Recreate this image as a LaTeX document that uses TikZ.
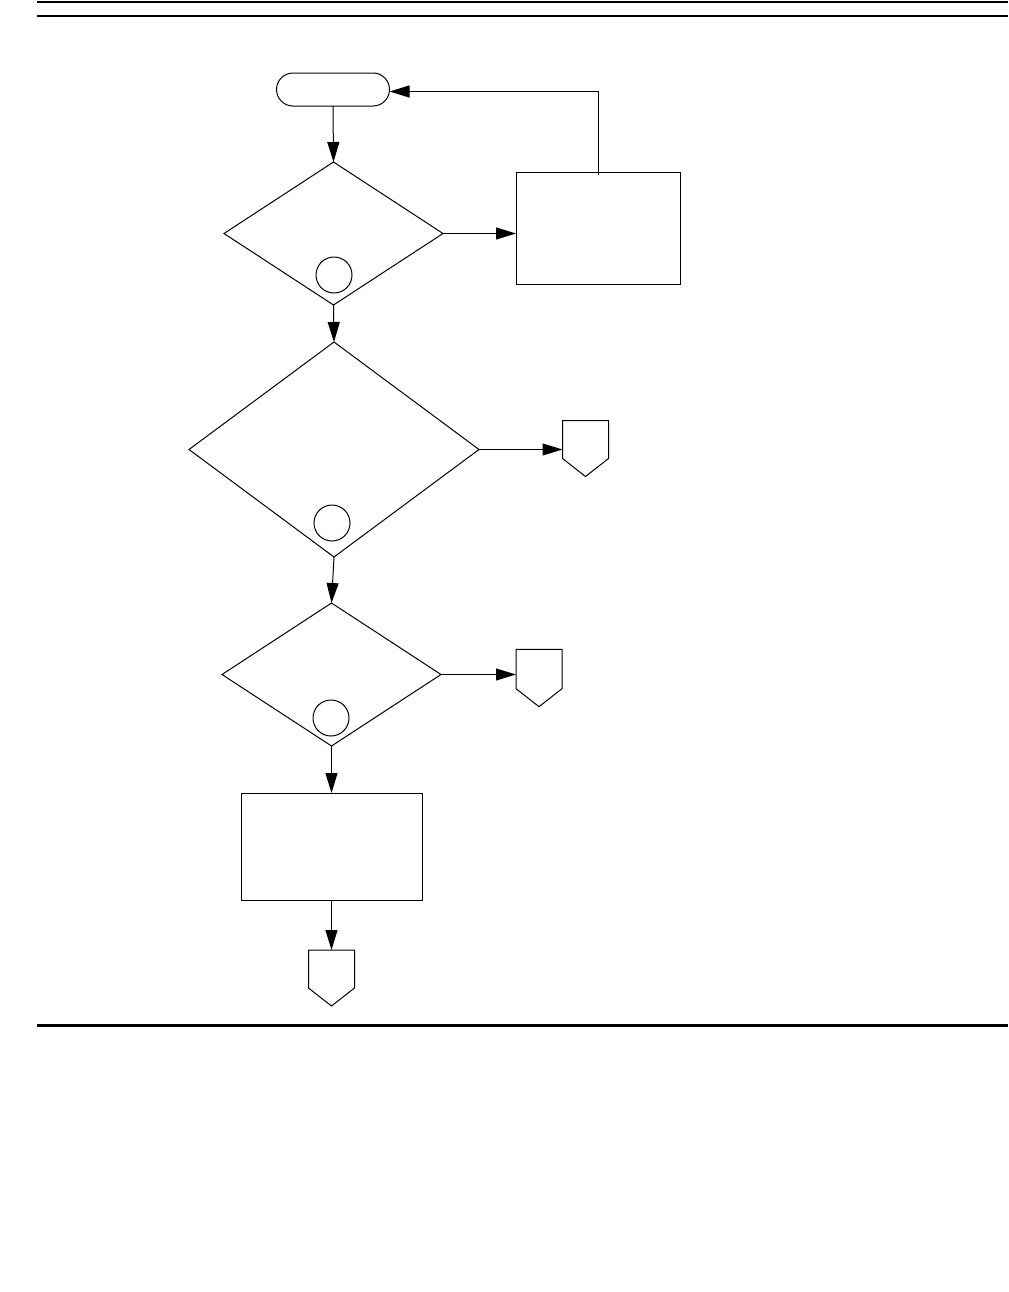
\documentclass[tikz,border=0pt]{standalone}
\usetikzlibrary{arrows.meta,shapes.geometric,shapes.misc}
\begin{document}
\begin{tikzpicture}[x=0.75pt,y=-0.75pt,
  every node/.style={inner sep=0pt,outer sep=0pt},
  ln/.style={line width=0.75pt,black},
  arr/.style={ln,-{Triangle[length=15pt,width=9pt]}},
  rule/.style={line width=1.6pt,black},
  term/.style={draw,ln,rounded rectangle,minimum width=84.75pt,minimum height=24.75pt},
  dsmall/.style={draw,ln,diamond,minimum width=164.25pt,minimum height=107.25pt},
  dbig/.style={draw,ln,diamond,minimum width=217.5pt,minimum height=161.25pt},
  circ/.style={draw,ln,circle,minimum size=27pt},
  opbox/.style={rectangle,minimum width=34.5pt,minimum height=42pt},
]
\useasboundingbox (0,0) rectangle (1008,1292);
% page rules
\draw[rule] (37,2) -- (1008,2);
\draw[rule] (37,15.8) -- (1008,15.8);
\draw[rule] (37,1025.5) -- (1008,1025.5);

% nodes
\node[term] (start) at (333,89.5) {};
\node[dsmall] (d1) at (333.5,233.5) {};
\node[draw,ln,rectangle,minimum width=123pt,minimum height=84pt] (r1) at (598,228) {};
\node[dbig] (d2) at (334,449.5) {};
\node[dsmall] (d3) at (331.5,674.5) {};
\node[draw,ln,rectangle,minimum width=135.75pt,minimum height=80.25pt] (r2) at (331.5,846.5) {};
\node[circ] (c1) at (334,275) {};
\node[circ] (c2) at (332,523) {};
\node[circ] (c3) at (331,718) {};

\node[opbox] (o1) at (585.5,448.5) {};
\node[opbox,minimum width=34.5pt,minimum height=43pt] (o2) at (539,678) {};
\node[opbox] (o3) at (331.5,978) {};
\foreach \o in {o1,o2,o3}{
  \draw[ln,fill=white] (\o.north west) -- (\o.north east) -- ([yshift=13.5pt]\o.south east)
    -- (\o.south) -- ([yshift=13.5pt]\o.south west) -- cycle;
}

% connectors
\draw[arr] (start.south) -- (d1.north);
\draw[arr] (d1.east) -- (d1.east -| r1.west);
\draw[arr] ([yshift=-2pt]r1.north) |- ([yshift=-1.5pt]start.east);
\draw[arr] (d1.south) -- (d2.north);
\draw[arr] (d2.east) -- (d2.east -| o1.west);
\draw[arr] (d2.south) -- (d3.north);
\draw[arr] (d3.east) -- (d3.east -| o2.west);
\draw[arr] (d3.south) -- (r2.north);
\draw[arr] (r2.south) -- (o3.north);
\end{tikzpicture}
\end{document}
